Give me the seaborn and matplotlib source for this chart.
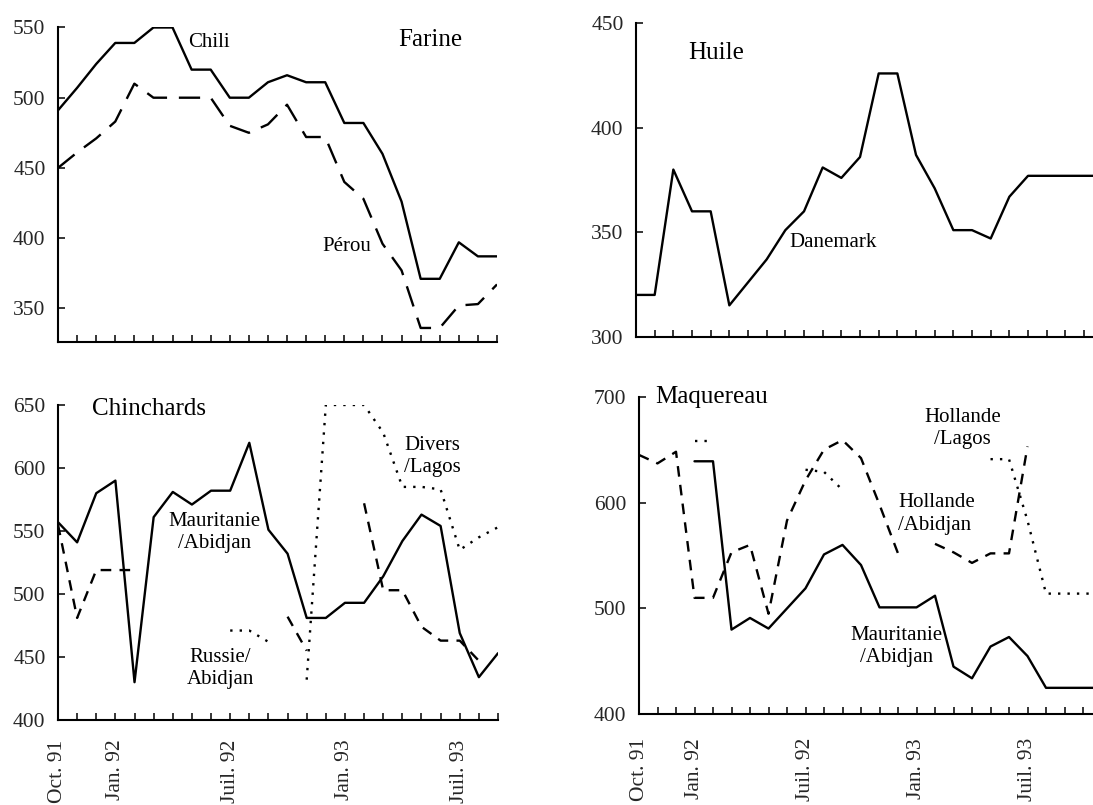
import numpy as np
import pandas as pd
import seaborn as sns
import matplotlib
matplotlib.use("Agg")
import matplotlib.pyplot as plt

nan = np.nan

# months Oct. 91 -> Nov. 93, only a few are labelled
months = ["Oct. 91", "Nov. 91", "Déc. 91", "Jan. 92", "Fév. 92", "Mars 92",
          "Avr. 92", "Mai 92", "Juin 92", "Juil. 92", "Août 92", "Sept. 92",
          "Oct. 92", "Nov. 92", "Déc. 92", "Jan. 93", "Fév. 93", "Mars 93",
          "Avr. 93", "Mai 93", "Juin 93", "Juil. 93", "Août 93", "Sept. 93",
          "Oct. 93", "Nov. 93"]
shown_months = ["Oct. 91", "Jan. 92", "Juil. 92", "Jan. 93", "Juil. 93"]

# Farine
farine_chili = [491, 507, 524, 539, 539, 550, 550, 520, 520, 500, 500, 511,
                516, 511, 511, 482, 482, 460, 426, 371, 371, 397, 387, 387]
farine_perou = [450, 461, 471, 483, 510, 500, 500, 500, 500, 480, 475, 481,
                495, 472, 472, 440, 428, 396, 377, 336, 336, 352, 353, 367]

# Huile
huile_danemark = [320, 320, 380, 360, 360, 315, 326, 337, 351, 360, 381, 376,
                  386, 426, 426, 387, 371, 351, 351, 347, 367, 377, 377, 377,
                  377, 377]

# Chinchards
chin_mauritanie = [557, 541, 580, 590, 430, 561, 581, 571, 582, 582, 620, 551,
                   532, 481, 481, 493, 493, 514, 542, 563, 554, 469, 434, 453]
chin_russie = [555, 481, 519, 519, 519, nan, nan, nan, nan, nan, nan, nan,
               482, 455, nan, nan, 572, 503, 503, 474, 463, 463, 447, nan]
chin_divers = [nan, nan, nan, nan, nan, nan, nan, nan, nan, 471, 471, 462,
               nan, 432, 650, 650, 650, 628, 585, 585, 583, 535, 545, 553]

# Maquereau
maq_mauritanie = [nan, nan, nan, 639, 639, 480, 491, 481, 500, 519, 551, 560,
                  541, 501, 501, 501, 512, 445, 434, 464, 473, 455, 425, 425,
                  425, 425]
maq_hol_abidjan = [645, 637, 648, 510, 510, 553, 560, 495, 583, 621, 650, 659,
                   642, 598, 552, nan, 561, 553, 543, 552, 552, 653, nan, nan,
                   nan, nan]
maq_hol_lagos = [nan, nan, nan, 658, 658, nan, nan, nan, nan, 631, 629, 612,
                 nan, nan, nan, nan, nan, nan, nan, 641, 641, 583, 514, 514,
                 514, 514]

SOLID = ""
LONG_DASH = (9, 5)
DASH = (4.5, 3.5)
DOT = (1, 3)


def long_frame(series):
    rows = []
    for name, vals in series.items():
        seg = 0
        for i, v in enumerate(vals):
            if np.isnan(v):
                seg += 1
                continue
            rows.append({"mois": i, "prix": v, "serie": name,
                         "trait": f"{name}_{seg}"})
    return pd.DataFrame(rows)


def draw_panel(ax, series, dashes, xmax, ylim, yticks, labels_on, pad=14):
    df = long_frame(series)
    sns.lineplot(data=df, x="mois", y="prix", style="serie", units="trait",
                 estimator=None, dashes=dashes, color="black", linewidth=1.7,
                 legend=False, sort=False, ax=ax)
    n = int(np.ceil(xmax)) + 1
    ax.set_xlim(0, xmax)
    ax.set_ylim(*ylim)
    ax.set_yticks(yticks)
    ax.set_xticks(range(n))
    if labels_on:
        ax.set_xticklabels([m if m in shown_months else "" for m in months[:n]],
                           rotation=90, fontsize=15.5)
    else:
        ax.set_xticklabels([""] * n)
    ax.tick_params(axis="x", direction="in", length=5, width=1.3, pad=pad)
    ax.tick_params(axis="y", direction="in", length=5, width=1.3, pad=9,
                   labelsize=15.5)
    ax.set_xlabel("")
    ax.set_ylabel("")
    for side in ["top", "right"]:
        ax.spines[side].set_visible(False)
    for side in ["left", "bottom"]:
        ax.spines[side].set_linewidth(1.5)
        ax.spines[side].set_color("black")
    ax.set_facecolor("white")


sns.set_theme(style="ticks")
plt.rcParams["font.family"] = ["Liberation Serif", "DejaVu Serif"]

W, H = 1093, 805
fig = plt.figure(figsize=(W / 100, H / 100), dpi=100)
fig.patch.set_facecolor("white")


def axes_px(left, right, top, bottom):
    return fig.add_axes([left / W, 1 - bottom / H, (right - left) / W,
                         (bottom - top) / H])


# right-hand panels run past the page edge, as in the scan
ax_tl = axes_px(58, 497, 27.5, 342)
ax_tr = axes_px(636, 1102.7, 23.3, 336.7)
ax_bl = axes_px(58, 498, 405, 720)
ax_br = axes_px(639, 1101.5, 396.7, 714.3)

draw_panel(ax_tl, {"Chili": farine_chili, "Pérou": farine_perou},
           {"Chili": SOLID, "Pérou": LONG_DASH}, 23, (326, 550),
           [350, 400, 450, 500, 550], False)
draw_panel(ax_tr, {"Danemark": huile_danemark}, {"Danemark": SOLID},
           25, (300, 450), [300, 350, 400, 450], False)
draw_panel(ax_bl, {"Mauritanie/Abidjan": chin_mauritanie,
                   "Russie/Abidjan": chin_russie,
                   "Divers/Lagos": chin_divers},
           {"Mauritanie/Abidjan": SOLID, "Russie/Abidjan": DASH,
            "Divers/Lagos": DOT}, 23, (400, 650),
           [400, 450, 500, 550, 600, 650], True, pad=14)
draw_panel(ax_br, {"Mauritanie/Abidjan": maq_mauritanie,
                   "Hollande/Abidjan": maq_hol_abidjan,
                   "Hollande/Lagos": maq_hol_lagos},
           {"Mauritanie/Abidjan": SOLID, "Hollande/Abidjan": DASH,
            "Hollande/Lagos": DOT}, 25, (400, 700),
           [400, 500, 600, 700], True, pad=17)

title_kw = dict(fontsize=18, ha="left", va="center", color="black")
lab_kw = dict(fontsize=15, va="center", color="black", linespacing=1.25)

ax_tl.text(17.8, 541, "Farine", **title_kw)
ax_tl.text(6.8, 539, "Chili", ha="left", **lab_kw)
ax_tl.text(13.85, 394, "Pérou", ha="left", **lab_kw)

ax_tr.text(2.8, 436, "Huile", **title_kw)
ax_tr.text(8.2, 345, "Danemark", ha="left", **lab_kw)

ax_bl.text(1.8, 647, "Chinchards", **title_kw)
ax_bl.text(8.2, 549, "Mauritanie\n/Abidjan", ha="center", **lab_kw)
ax_bl.text(19.55, 609, "Divers\n/Lagos", ha="center", **lab_kw)
ax_bl.text(8.5, 441, "Russie/\nAbidjan", ha="center", **lab_kw)

ax_br.text(0.85, 700, "Maquereau", **title_kw)
ax_br.text(17.5, 670, "Hollande\n/Lagos", ha="center", **lab_kw)
ax_br.text(14.0, 589, "Hollande\n/Abidjan", ha="left", **lab_kw)
ax_br.text(13.9, 464, "Mauritanie\n/Abidjan", ha="center", **lab_kw)

fig.savefig("out.png", dpi=100, facecolor="white")
